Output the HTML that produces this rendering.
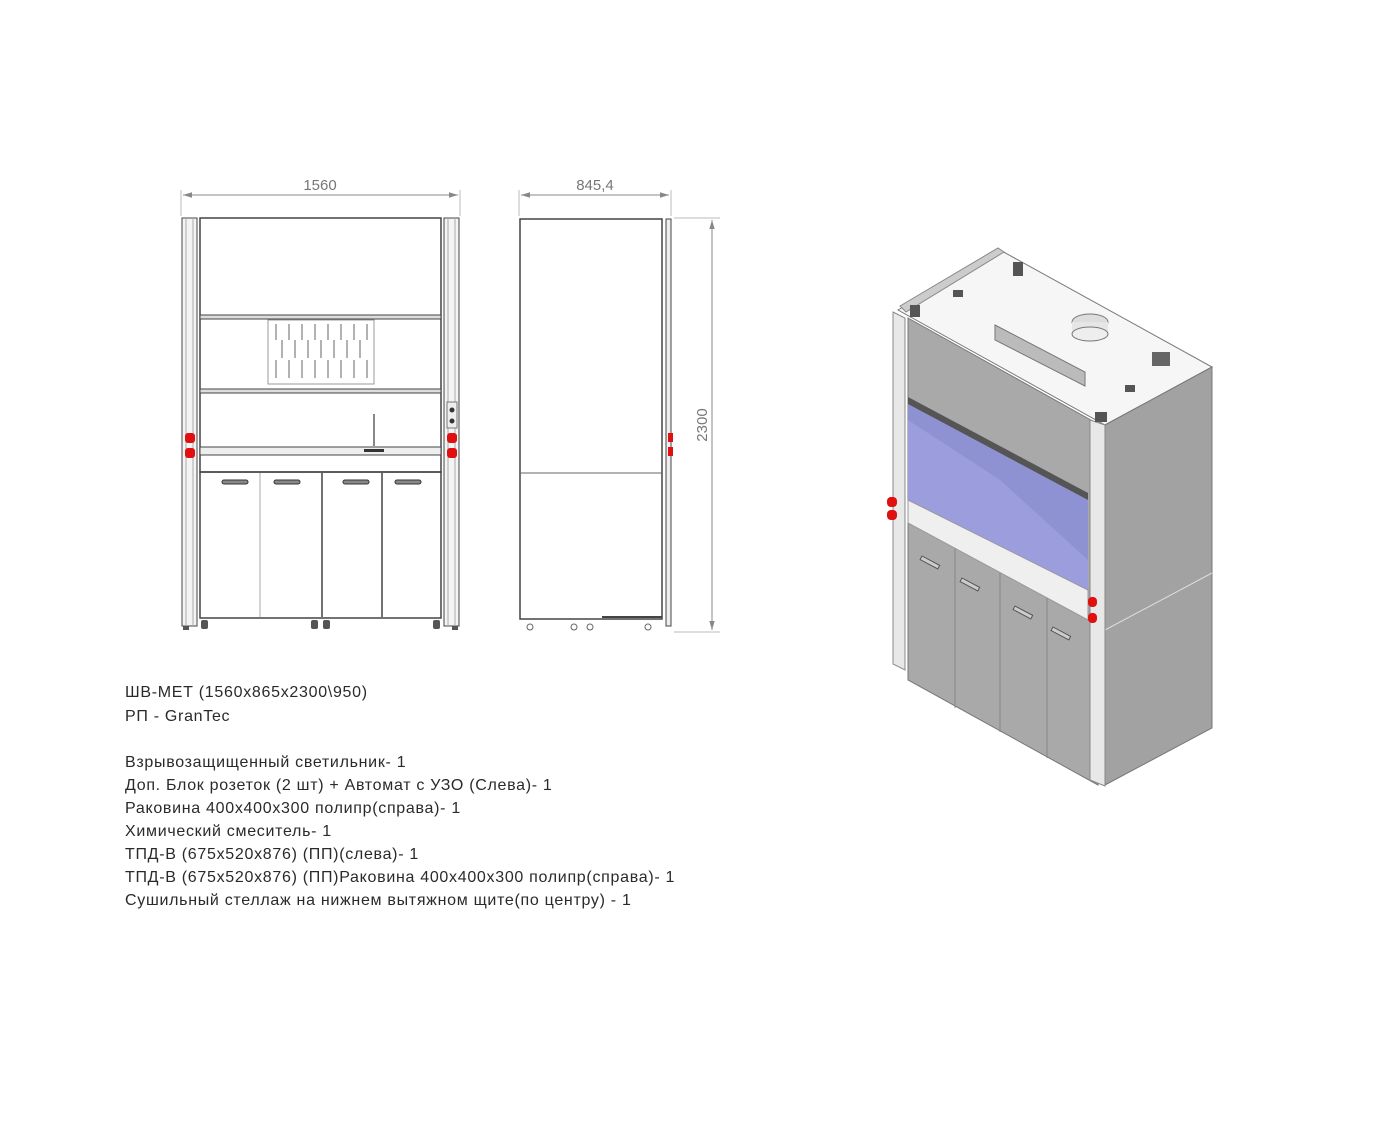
<!DOCTYPE html>
<html><head><meta charset="utf-8"><style>
body{margin:0;background:#fff;width:1400px;height:1134px;overflow:hidden}
svg{position:absolute;left:0;top:0}
.t{font-family:"Liberation Sans","DejaVu Sans",sans-serif;font-size:16px;letter-spacing:0.7px;fill:#2a2a2a}
.d{font-family:"Liberation Sans",sans-serif;font-size:15px;fill:#777}
</style></head><body>
<svg width="1400" height="1134" viewBox="0 0 1400 1134">
<defs>
<marker id="a" viewBox="0 0 10 10" refX="10" refY="5" markerWidth="9" markerHeight="9" orient="auto-start-reverse"><path d="M0,2 L10,5 L0,8 Z" fill="#888"/></marker>
</defs>
<!-- FRONT VIEW -->
<g stroke="#bbb" stroke-width="1" fill="none">
<line x1="181" y1="190" x2="181" y2="216"/><line x1="460" y1="190" x2="460" y2="216"/>
</g>
<line x1="183" y1="195" x2="458" y2="195" stroke="#888" stroke-width="1" marker-start="url(#a)" marker-end="url(#a)"/>
<text class="d" x="320" y="190" text-anchor="middle">1560</text>
<g stroke="#444" fill="none" stroke-width="1">
<rect x="182" y="218" width="15" height="408" fill="#f4f4f4"/>
<line x1="186" y1="218" x2="186" y2="626" stroke="#aaa"/>
<line x1="193" y1="218" x2="193" y2="626" stroke="#aaa"/>
<rect x="444" y="218" width="15" height="408" fill="#f4f4f4"/>
<line x1="448" y1="218" x2="448" y2="626" stroke="#aaa"/>
<line x1="455" y1="218" x2="455" y2="626" stroke="#aaa"/>
<rect x="200" y="218" width="241" height="254" stroke-width="1.5"/>
<rect x="200" y="315" width="241" height="4" fill="#ddd"/>
<rect x="200" y="389" width="241" height="4" fill="#ddd"/>
<rect x="268" y="320" width="106" height="64" stroke="#999"/>
<rect x="200" y="447" width="241" height="8" fill="#eee"/>
<rect x="200" y="472" width="241" height="146" stroke-width="1.5"/>
<line x1="260" y1="473" x2="260" y2="617" stroke="#aaa"/>
<line x1="322" y1="473" x2="322" y2="617" stroke-width="1.5"/>
<line x1="382" y1="473" x2="382" y2="617" stroke-width="1.5"/>
</g>
<g stroke="#999" stroke-width="1.5">
<line x1="276" y1="324" x2="276" y2="340"/><line x1="289" y1="324" x2="289" y2="340"/><line x1="302" y1="324" x2="302" y2="340"/><line x1="315" y1="324" x2="315" y2="340"/><line x1="328" y1="324" x2="328" y2="340"/><line x1="341" y1="324" x2="341" y2="340"/><line x1="354" y1="324" x2="354" y2="340"/><line x1="367" y1="324" x2="367" y2="340"/>
<line x1="282" y1="340" x2="282" y2="358"/><line x1="295" y1="340" x2="295" y2="358"/><line x1="308" y1="340" x2="308" y2="358"/><line x1="321" y1="340" x2="321" y2="358"/><line x1="334" y1="340" x2="334" y2="358"/><line x1="347" y1="340" x2="347" y2="358"/><line x1="360" y1="340" x2="360" y2="358"/>
<line x1="276" y1="360" x2="276" y2="378"/><line x1="289" y1="360" x2="289" y2="378"/><line x1="302" y1="360" x2="302" y2="378"/><line x1="315" y1="360" x2="315" y2="378"/><line x1="328" y1="360" x2="328" y2="378"/><line x1="341" y1="360" x2="341" y2="378"/><line x1="354" y1="360" x2="354" y2="378"/><line x1="367" y1="360" x2="367" y2="378"/>
</g>
<g fill="#888" stroke="#333" stroke-width="1">
<rect x="222" y="480" width="26" height="4" rx="2"/><rect x="274" y="480" width="26" height="4" rx="2"/><rect x="343" y="480" width="26" height="4" rx="2"/><rect x="395" y="480" width="26" height="4" rx="2"/>
</g>
<line x1="374" y1="414" x2="374" y2="446" stroke="#888" stroke-width="2"/>
<rect x="364" y="449" width="20" height="3" fill="#333"/>
<rect x="447" y="402" width="10" height="26" fill="#eee" stroke="#777"/>
<circle cx="452" cy="410" r="2.5" fill="#333"/><circle cx="452" cy="421" r="2.5" fill="#333"/>
<g fill="#e01010"><rect x="185" y="433" width="10" height="10" rx="3"/><rect x="185" y="448" width="10" height="10" rx="3"/><rect x="447" y="433" width="10" height="10" rx="3"/><rect x="447" y="448" width="10" height="10" rx="3"/></g>
<g fill="#555"><rect x="201" y="620" width="7" height="9" rx="2"/><rect x="311" y="620" width="7" height="9" rx="2"/><rect x="323" y="620" width="7" height="9" rx="2"/><rect x="433" y="620" width="7" height="9" rx="2"/><rect x="183" y="626" width="6" height="4"/><rect x="452" y="626" width="6" height="4"/></g>
<!-- SIDE VIEW -->
<g stroke="#bbb" stroke-width="1" fill="none">
<line x1="519" y1="190" x2="519" y2="216"/><line x1="671" y1="190" x2="671" y2="216"/>
<line x1="674" y1="218" x2="720" y2="218"/><line x1="674" y1="632" x2="720" y2="632"/>
</g>
<line x1="521" y1="195" x2="669" y2="195" stroke="#888" marker-start="url(#a)" marker-end="url(#a)"/>
<text class="d" x="595" y="190" text-anchor="middle">845,4</text>
<line x1="712" y1="220" x2="712" y2="630" stroke="#888" marker-start="url(#a)" marker-end="url(#a)"/>
<text class="d" x="707" y="425" text-anchor="middle" transform="rotate(-90 707 425)">2300</text>
<g stroke="#444" fill="none">
<rect x="520" y="219" width="142" height="400" stroke-width="1.5"/>
<line x1="520" y1="473" x2="662" y2="473" stroke="#666"/>
<line x1="602" y1="617" x2="662" y2="617" stroke-width="2"/>
<rect x="666" y="219" width="5" height="407" fill="#eee"/>
</g>
<g fill="#e01010"><rect x="668" y="433" width="5" height="9"/><rect x="668" y="447" width="5" height="9"/></g>
<g fill="none" stroke="#666"><circle cx="530" cy="627" r="3"/><circle cx="574" cy="627" r="3"/><circle cx="590" cy="627" r="3"/><circle cx="648" cy="627" r="3"/></g>
<!-- 3D VIEW -->
<polygon points="898,310 1000,250 1212,367 1105,425" fill="#f6f6f6" stroke="#777"/>
<polygon points="900,306 998,248 1004,252 906,312" fill="#ccc" stroke="#888"/>
<polygon points="908,318 1098,424 1098,785 908,680" fill="#a9a9a9" stroke="#777"/>
<polygon points="1105,425 1212,367 1212,728 1105,785" fill="#a2a2a2" stroke="#777"/>
<line x1="1105" y1="630" x2="1212" y2="573" stroke="#ddd"/>
<polygon points="908,397 1088,493 1088,590 908,500" fill="#8f92d2"/>
<polygon points="908,397 1088,493 1088,500 908,404" fill="#555"/>
<polygon points="908,420 1000,480 1088,560 1088,590 908,500" fill="#9fa2e0" opacity="0.7"/>
<polygon points="908,500 1088,590 1088,620 908,523" fill="#efefef" stroke="#999"/>
<g stroke="#888" fill="none"><line x1="955" y1="548" x2="955" y2="708"/><line x1="1000" y1="573" x2="1000" y2="732"/><line x1="1047" y1="598" x2="1047" y2="758"/></g>
<g stroke="#555" fill="#ccc"><rect x="922" y="556" width="20" height="4" transform="rotate(28 922 556)"/><rect x="962" y="578" width="20" height="4" transform="rotate(28 962 578)"/><rect x="1015" y="606" width="20" height="4" transform="rotate(28 1015 606)"/><rect x="1053" y="627" width="20" height="4" transform="rotate(28 1053 627)"/></g>
<polygon points="893,312 905,318 905,670 893,664" fill="#e8e8e8" stroke="#888"/>
<polygon points="1090,420 1105,425 1105,786 1090,780" fill="#e8e8e8" stroke="#888"/>
<polygon points="995,325 1085,372 1085,386 995,340" fill="#bbb" stroke="#777"/>
<ellipse cx="1090" cy="322" rx="18" ry="8" fill="#ddd" stroke="#777"/>
<rect x="1072" y="322" width="36" height="12" fill="#e6e6e6"/>
<ellipse cx="1090" cy="334" rx="18" ry="7" fill="#eee" stroke="#777"/>
<rect x="1152" y="352" width="18" height="14" fill="#666"/>
<g fill="#555"><rect x="953" y="290" width="10" height="7"/><rect x="1125" y="385" width="10" height="7"/><rect x="1013" y="262" width="10" height="14"/><rect x="1095" y="412" width="12" height="10"/><rect x="910" y="305" width="10" height="12"/></g>
<g fill="#e01010"><rect x="887" y="497" width="10" height="10" rx="4"/><rect x="887" y="510" width="10" height="10" rx="4"/><rect x="1088" y="597" width="9" height="10" rx="4"/><rect x="1088" y="613" width="9" height="10" rx="4"/></g>
<!-- TEXT -->
<text class="t" x="125" y="697">ШВ-МЕТ (1560x865x2300\950)</text>
<text class="t" x="125" y="721">РП - GranTec</text>
<text class="t" x="125" y="767">Взрывозащищенный светильник- 1</text>
<text class="t" x="125" y="790">Доп. Блок розеток (2 шт) + Автомат с УЗО (Слева)- 1</text>
<text class="t" x="125" y="813">Раковина 400x400x300 полипр(справа)- 1</text>
<text class="t" x="125" y="836">Химический смеситель- 1</text>
<text class="t" x="125" y="859">ТПД-В (675x520x876) (ПП)(слева)- 1</text>
<text class="t" x="125" y="882">ТПД-В (675x520x876) (ПП)Раковина 400x400x300 полипр(справа)- 1</text>
<text class="t" x="125" y="905">Сушильный стеллаж на нижнем вытяжном щите(по центру) - 1</text>
</svg>
</body></html>
